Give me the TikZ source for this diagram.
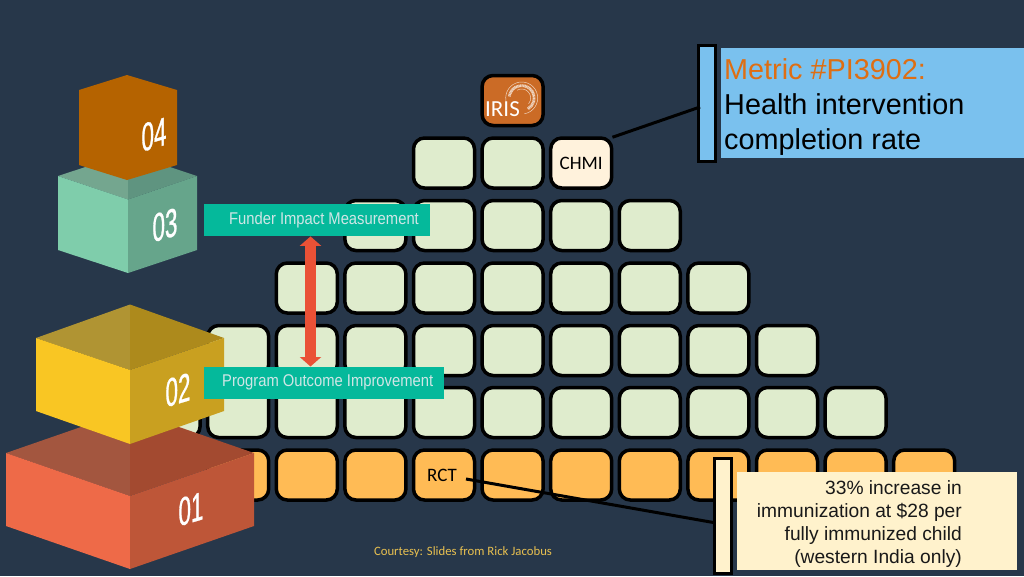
\documentclass[tikz,border=0pt]{standalone}
\usepackage{fontspec}
\usetikzlibrary{arrows.meta,calc}
\setmainfont{Liberation Sans}
\newfontfamily\calib{Carlito}
\newfontfamily\cond[FakeStretch=0.87]{Liberation Sans}
\newfontfamily\digits[FakeStretch=0.56,FakeBold=0.7]{Liberation Sans}
\newcommand\tealtxt[2]{\raisebox{#1}{\spaceskip=4pt\relax #2}}
\definecolor{bg}{HTML}{27374A}
\definecolor{cellgreen}{HTML}{DFECCD}
\definecolor{cellorange}{HTML}{FFBB55}
\definecolor{cellcream}{HTML}{FFF2DC}
\definecolor{irisorange}{HTML}{CB6B26}
\definecolor{teal}{HTML}{05B99B}
\definecolor{tealtext}{HTML}{CFE6E6}
\definecolor{arrowred}{HTML}{EA5136}
\definecolor{skyblue}{HTML}{7AC1EE}
\definecolor{notecream}{HTML}{FFF2CC}
\definecolor{metricorange}{HTML}{DE6E13}
\definecolor{courtesy}{HTML}{E8C050}
\tikzset{
  x=1pt,y=-1pt,
  cell/.style={draw=black,line width=3.5pt,rounded corners=11pt,minimum width=61pt,minimum height=50pt,inner sep=0pt,fill=cellgreen,text=black,font=\calib\fontsize{19}{19}\selectfont},
  orangecell/.style={cell,fill=cellorange},
  bar/.style={draw=black,line width=3pt},
  leader/.style={draw=black,line width=3pt},
  tealbox/.style={fill=teal,text=tealtext,inner sep=0pt,anchor=north west,font=\cond\fontsize{17}{17}\selectfont},
  cubenum/.style={text=white,inner sep=0pt,yslant=0.3,transform shape,font=\digits\fontsize{40}{40}\selectfont},
  logoring/.style={draw=white!70!irisorange},
}
\begin{document}
\begin{tikzpicture}
\useasboundingbox (0,0) rectangle (1024,576);
\fill[bg] (0,0) rectangle (1024,576);
% grid of cells
\node[cell,fill=irisorange] (iris) at (512.6,100.5) {};
\foreach \k/\nm in {0/a,1/b}{\node[cell] (r2\nm) at ({444+68.6*\k},163) {};}
\node[cell,fill=cellcream] (chmi) at (581.2,163) {\raisebox{-1pt}{CHMI}};
\foreach \k in {-1,...,3}{\node[cell] (r3n\k) at ({444+68.6*\k},225.5) {};}
\foreach \k in {-2,...,4}{\node[cell] (r4n\k) at ({444+68.6*\k},288) {};}
\foreach \k in {-3,...,5}{\node[cell] (r5n\k) at ({444+68.6*\k},350.5) {};}
\foreach \k in {-4,...,6}{\node[cell] (r6n\k) at ({444+68.6*\k},412.5) {};}
\foreach \k in {-3,...,-1}{\node[orangecell] (r7m\k) at ({444+68.6*\k},475) {};}
\foreach \k in {1,...,7}{\node[orangecell] (r7p\k) at ({444+68.6*\k},475) {};}
\node[orangecell] (rct) at (444,475) {\kern-4pt\raisebox{-1pt}{RCT}};
% IRIS logo
\draw[logoring,line width=0.5pt] (521.7,98) ++(80:16) arc[start angle=80,end angle=-190,radius=16];
\draw[logoring,line width=2.8pt,dash pattern=on 1pt off 0.5pt] (521.7,98) ++(60:12.5) arc[start angle=60,end angle=-175,radius=12.5];
\draw[logoring,line width=0.5pt] (521.7,98) ++(40:9) arc[start angle=40,end angle=-120,radius=9];
\node[text=white,inner sep=0pt,font=\calib\fontsize{23}{23}\selectfont] (iristext) at (502.5,109) {IRIS};
% cube 01
\fill[fill={rgb,255:red,163;green,86;blue,63}] (6,453) -- (130,410) -- (130,496) -- cycle;
\fill[fill={rgb,255:red,163;green,74;blue,48}] (254,453) -- (130,410) -- (130,496) -- cycle;
\fill[fill={rgb,255:red,238;green,106;blue,72}] (6,453) -- (130,496) -- (130,569) -- (6,526) -- cycle;
\fill[fill={rgb,255:red,190;green,86;blue,56}] (254,453) -- (130,496) -- (130,569) -- (254,526) -- cycle;
\node[cubenum] (c1) at (191,509) {01};
% cube 02
\fill[fill={rgb,255:red,176;green,148;blue,51}] (36,338) -- (130,304.5) -- (130,370) -- cycle;
\fill[fill={rgb,255:red,173;green,138;blue,28}] (224,338) -- (130,304.5) -- (130,370) -- cycle;
\fill[fill={rgb,255:red,249;green,198;blue,35}] (36,338) -- (130,370) -- (130,444) -- (36,411) -- cycle;
\fill[fill={rgb,255:red,201;green,160;blue,32}] (224,338) -- (130,370) -- (130,444) -- (224,411) -- cycle;
\node[cubenum] (c2) at (178,390) {02};
% cube 03
\fill[fill={rgb,255:red,116;green,166;blue,143}] (58,176) -- (128,153) -- (128,199.5) -- cycle;
\fill[fill={rgb,255:red,95;green,148;blue,128}] (197,176) -- (128,153) -- (128,199.5) -- cycle;
\fill[fill={rgb,255:red,127;green,205;blue,171}] (58,176) -- (128,199.5) -- (128,273) -- (58,250) -- cycle;
\fill[fill={rgb,255:red,102;green,165;blue,139}] (197,176) -- (128,199.5) -- (128,273) -- (197,250) -- cycle;
\node[cubenum] (c3) at (165,225) {03};
% cube 04
\fill[fill={rgb,255:red,181;green,99;blue,0}] (79,90) -- (127,75) -- (177,90) -- (177,165) -- (127,180) -- (79,165) -- cycle;
\node[cubenum] (c4) at (154,134.5) {04};
% teal labels
\node[tealbox,minimum width=226pt,minimum height=32pt,text width=226pt,align=left] (funder) at (204,204) {\tealtxt{-2.5pt}{\hspace*{25pt}Funder Impact Measurement}};
\node[tealbox,minimum width=240pt,minimum height=32pt,text width=240pt,align=left] (program) at (204,366.5) {\tealtxt{-3.5pt}{\hspace*{18pt}Program Outcome Improvement}};
\coordinate (arrowx) at (310.5,300);
\draw[draw=arrowred,line width=10.7pt,{Triangle[width=21pt,length=9.5pt]}-{Triangle[width=21pt,length=9.5pt]}] (funder.south -| arrowx) -- (program.north -| arrowx);
% metric callout
\node[fill=skyblue,inner sep=0pt,minimum width=303pt,minimum height=110pt,anchor=north west] (metricbox) at (721,48) {};
\node[text=black,inner sep=0pt,anchor=west,align=left,font=\fontsize{28.8}{34.8}\selectfont] (metric) at (724,107) {\textcolor{metricorange}{Metric \#PI3902:}\\Health intervention\\completion rate};
\node[bar,fill=skyblue,inner sep=0pt,minimum width=17pt,minimum height=116pt,anchor=north west] (metricbar) at (697,44) {};
\coordinate (metricend) at (700,107);
\draw[leader] (chmi.north east) ++(-1,1) -- (metricend);
% note callout
\node[fill=notecream,inner sep=0pt,minimum width=280pt,minimum height=98pt,anchor=north west] (notebox) at (736.7,472) {};
\node[text=black!90,inner sep=0pt,anchor=east,align=right,font=\fontsize{19.2}{23}\selectfont] (note) at (962,524) {33\% increase in\\immunization at \$28 per\\fully immunized child\\(western India only)};
\coordinate (rctstart) at (466,479);
\node[bar,fill=notecream,inner sep=0pt,minimum width=17pt,minimum height=115pt,anchor=north west] (notebar) at (713,457) {};
\coordinate (noteend) at (714.5,522.7);
\draw[leader] (rctstart) -- (noteend);
% courtesy
\node[text=courtesy,inner sep=0pt,font=\calib\fontsize{12.75}{12.75}\selectfont] (credit) at (463,552.5) {Courtesy: Slides from Rick Jacobus};
\end{tikzpicture}
\end{document}
